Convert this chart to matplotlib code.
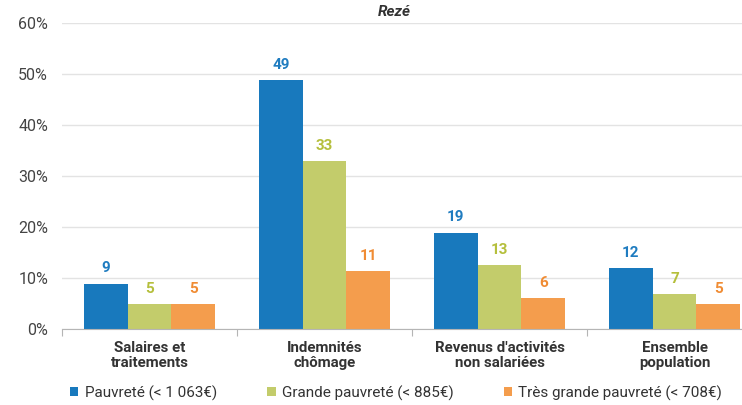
import matplotlib
matplotlib.use("Agg")
import matplotlib.pyplot as plt
import numpy as np
from matplotlib.patches import Patch

plt.rcParams['font.family'] = ['Roboto', 'DejaVu Sans']

categories = ["Salaires et\ntraitements", "Indemnités\nchômage", "Revenus d'activités\nnon salariées", "Ensemble\npopulation"]
series_names = ["Pauvreté (< 1 063€)", "Grande pauvreté (< 885€)", "Très grande pauvreté (< 708€)"]
pauvrete = [8.9, 48.8, 18.9, 11.9]
grande = [4.9, 32.9, 12.6, 6.9]
tres_grande = [4.9, 11.3, 6.1, 4.9]
labels_pauvrete = ["9", "49", "19", "12"]
labels_grande = ["5", "33", "13", "7"]
labels_tres = ["5", "11", "6", "5"]
yticks = [0, 10, 20, 30, 40, 50, 60]
title = "Rezé"

bar_colors = ["#1879bd", "#c3cc6b", "#f49d4d"]
text_colors = ["#1f7cc0", "#b5bf3c", "#f08c34"]

W, H = 742, 405
fig = plt.figure(figsize=(W/100, H/100), dpi=100)
ax = fig.add_axes([62/W, 76/H, 680/W, 306/H])

x = np.arange(len(categories))
bw = 0.25
series = [pauvrete, grande, tres_grande]
labs = [labels_pauvrete, labels_grande, labels_tres]
for i, (vals, lb) in enumerate(zip(series, labs)):
    pos = x + (i - 1) * bw
    ax.bar(pos, vals, width=bw, color=bar_colors[i], zorder=3)
    for p, v, t in zip(pos, vals, lb):
        ax.text(p, v + 1.6, t, ha='center', va='bottom', fontsize=11,
                fontweight='bold', color=text_colors[i])

ax.set_xlim(-0.5, -0.5 + 680/175)
ax.set_ylim(0, 60)
ax.set_yticks(yticks)
ax.set_yticklabels([f"{t}%" for t in yticks], fontsize=11.5, color="#444444")
ax.yaxis.grid(True, color="#e3e3e3", linewidth=1, zorder=0)
ax.tick_params(axis='y', length=0, pad=10)
for s in ['top', 'right', 'left']:
    ax.spines[s].set_visible(False)
ax.spines['bottom'].set_color('#b5b5b5')
ax.spines['bottom'].set_zorder(4)

ax.set_xticks(np.arange(len(categories)) - 0.5)
ax.set_xticklabels([])
ax.tick_params(axis='x', length=5, color='#b5b5b5', direction='out')

for xi, c in zip(x, categories):
    ax.text(xi, -2.4, c, ha='center', va='top', fontsize=10.8, fontweight='bold',
            color='#333333', linespacing=1.05)

fig.text(394/W, 1 - 12/H, title, ha='center', va='center', fontsize=11,
         fontweight='bold', fontstyle='italic', color='#333333')

handles = [Patch(facecolor=c, edgecolor='none') for c in bar_colors]
fig.legend(handles, series_names, loc='center left', bbox_to_anchor=(70/W, 1 - 393/H),
           ncol=3, frameon=False, fontsize=11, handlelength=0.55, handleheight=0.55,
           handletextpad=0.4, columnspacing=3.3, labelcolor='#333333',
           borderpad=0, borderaxespad=0)

fig.savefig("out.png", dpi=100)
